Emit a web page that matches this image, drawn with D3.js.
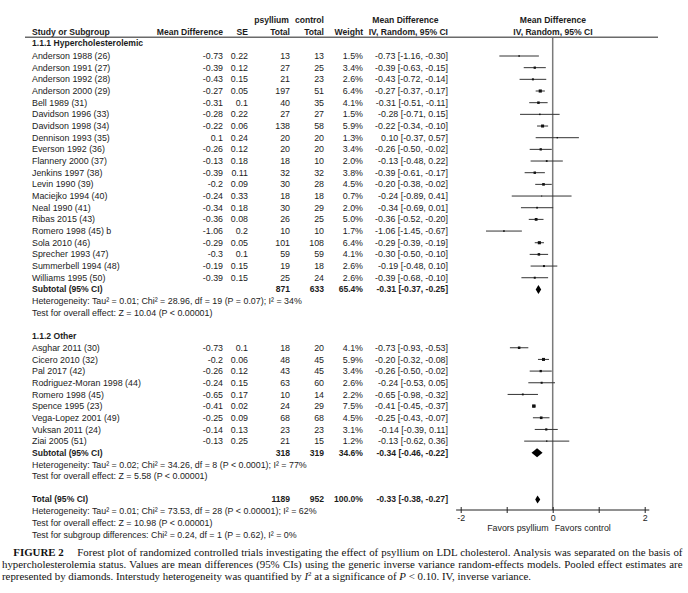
<!DOCTYPE html>
<html><head><meta charset="utf-8">
<script src="https://cdn.jsdelivr.net/npm/d3@7"></script>
<style>body{margin:0;background:#fff}svg{display:block}</style>
</head><body><svg id="c" width="688" height="593"></svg>
<script>
// ---------- DATA ----------
const g1Title = "1.1.1 Hypercholesterolemic";
const g1Names = ["Anderson 1988 (26)","Anderson 1991 (27)","Anderson 1992 (28)","Anderson 2000 (29)","Bell 1989 (31)","Davidson 1996 (33)","Davidson 1998 (34)","Dennison 1993 (35)","Everson 1992 (36)","Flannery 2000 (37)","Jenkins 1997 (38)","Levin 1990 (39)","Maciejko 1994 (40)","Neal 1990 (41)","Ribas 2015 (43)","Romero 1998 (45) b","Sola 2010 (46)","Sprecher 1993 (47)","Summerbell 1994 (48)","Williams 1995 (50)"];
const g1MD = [-0.73,-0.39,-0.43,-0.27,-0.31,-0.28,-0.22,0.1,-0.26,-0.13,-0.39,-0.2,-0.24,-0.34,-0.36,-1.06,-0.29,-0.3,-0.19,-0.39];
const g1SE = [0.22,0.12,0.15,0.05,0.1,0.22,0.06,0.24,0.12,0.18,0.11,0.09,0.33,0.18,0.08,0.2,0.05,0.1,0.15,0.15];
const g1NPsy = [13,27,21,197,40,27,138,20,20,18,32,30,18,30,26,10,101,59,19,25];
const g1NCtrl = [13,25,23,51,35,27,58,20,20,10,32,28,18,29,25,10,108,59,18,24];
const g1Weight = [1.5,3.4,2.6,6.4,4.1,1.5,5.9,1.3,3.4,2.0,3.8,4.5,0.7,2.0,5.0,1.7,6.4,4.1,2.6,2.6];
const g1Lo = [-1.16,-0.63,-0.72,-0.37,-0.51,-0.71,-0.34,-0.37,-0.50,-0.48,-0.61,-0.38,-0.89,-0.69,-0.52,-1.45,-0.39,-0.50,-0.48,-0.68];
const g1Hi = [-0.30,-0.15,-0.14,-0.17,-0.11,0.15,-0.10,0.57,-0.02,0.22,-0.17,-0.02,0.41,0.01,-0.20,-0.67,-0.19,-0.10,0.10,-0.10];
const g1Sub = {nPsy:871, nCtrl:633, weight:65.4, md:-0.31, lo:-0.37, hi:-0.25};
const g1Het = "Heterogeneity: Tau² = 0.01; Chi² = 28.96, df = 19 (P = 0.07); I² = 34%";
const g1Test = "Test for overall effect: Z = 10.04 (P < 0.00001)";

const g2Title = "1.1.2 Other";
const g2Names = ["Asghar 2011 (30)","Cicero 2010 (32)","Pal 2017 (42)","Rodriguez-Moran 1998 (44)","Romero 1998 (45)","Spence 1995 (23)","Vega-Lopez 2001 (49)","Vuksan 2011 (24)","Ziai 2005 (51)"];
const g2MD = [-0.73,-0.2,-0.26,-0.24,-0.65,-0.41,-0.25,-0.14,-0.13];
const g2SE = [0.1,0.06,0.12,0.15,0.17,0.02,0.09,0.13,0.25];
const g2NPsy = [18,48,43,63,10,24,68,23,21];
const g2NCtrl = [20,45,45,60,14,29,68,23,15];
const g2Weight = [4.1,5.9,3.4,2.6,2.2,7.5,4.5,3.1,1.2];
const g2Lo = [-0.93,-0.32,-0.50,-0.53,-0.98,-0.45,-0.43,-0.39,-0.62];
const g2Hi = [-0.53,-0.08,-0.02,0.05,-0.32,-0.37,-0.07,0.11,0.36];
const g2Sub = {nPsy:318, nCtrl:319, weight:34.6, md:-0.34, lo:-0.46, hi:-0.22};
const g2Het = "Heterogeneity: Tau² = 0.02; Chi² = 34.26, df = 8 (P < 0.0001); I² = 77%";
const g2Test = "Test for overall effect: Z = 5.58 (P < 0.00001)";

const total = {nPsy:1189, nCtrl:952, weight:100.0, md:-0.33, lo:-0.38, hi:-0.27};
const totHet = "Heterogeneity: Tau² = 0.01; Chi² = 73.53, df = 28 (P < 0.00001); I² = 62%";
const totTest = "Test for overall effect: Z = 10.98 (P < 0.00001)";
const subgroupTest = "Test for subgroup differences: Chi² = 0.24, df = 1 (P = 0.62), I² = 0%";

const axisTicks = [-2,-1,0,1,2];
const axisTickLabels = ["-2","","0","","2"];
const favorsLeft = "Favors psyllium";
const favorsRight = "Favors control";

// ---------- LAYOUT ----------
const svg = d3.select("#c");
const FONT = "'Liberation Sans', Arial, Helvetica, sans-serif";
const SERIF = "'Liberation Serif', 'Times New Roman', Times, serif";
const TXT = "#1c1c1c";
const x = d3.scaleLinear().domain([-2,2]).range([460.7,644.7]);
const rowY = d3.scaleLinear().domain([0,1]).range([56,67.67]);
const col = {name:32, md:223, se:248, nP:290, nC:324, w:363, ci:448};

// fit font sizes so that sample strings match widths measured on the reference
function fitSize(str, bold, target, fam) {
  const t = svg.append("text").attr("font-family", fam||FONT).attr("font-size",10)
    .attr("font-weight", bold?"bold":"normal").text(str);
  const w = t.node().getComputedTextLength(); t.remove();
  return 10*target/w;
}
const REG = d3.mean([fitSize(g1Het,false,268), fitSize("Rodriguez-Moran 1998 (44)",false,109), fitSize("Anderson 1988 (26)",false,79)]);
const BOLD = d3.mean([fitSize("Study or Subgroup",true,77), fitSize(g1Title,true,112.7), fitSize("Mean Difference",true,66)]);

const fmt2 = v => (v<0?"-":"") + Math.abs(v).toFixed(2);
const ciText = (m,l,h) => `${fmt2(m)} [${fmt2(l)}, ${fmt2(h)}]`;

function text(xp, yp, s, opts={}) {
  return svg.append("text").attr("x", xp).attr("y", yp).attr("dy","0.35em")
    .attr("font-family", FONT).attr("font-size", opts.bold?BOLD:REG)
    .attr("font-weight", opts.bold?"bold":"normal")
    .attr("text-anchor", opts.anchor||"start").attr("fill", TXT).text(s);
}

// headers
const yH1 = rowY(-3.1), yH2 = rowY(-2.05);
text(289, yH1, "psyllium", {bold:true, anchor:"end"});
text(col.nC, yH1, "control", {bold:true, anchor:"end"});
text(405.5, yH1, "Mean Difference", {bold:true, anchor:"middle"});
text(553, yH1, "Mean Difference", {bold:true, anchor:"middle"});
text(col.name, yH2, "Study or Subgroup", {bold:true});
text(col.md, yH2, "Mean Difference", {bold:true, anchor:"end"});
text(col.se, yH2, "SE", {bold:true, anchor:"end"});
text(col.nP, yH2, "Total", {bold:true, anchor:"end"});
text(col.nC, yH2, "Total", {bold:true, anchor:"end"});
text(col.w, yH2, "Weight", {bold:true, anchor:"end"});
text(col.ci, yH2, "IV, Random, 95% CI", {bold:true, anchor:"end"});
text(553, yH2, "IV, Random, 95% CI", {bold:true, anchor:"middle"});
svg.append("line").attr("x1",25).attr("x2",658).attr("y1",37.3).attr("y2",37.3)
  .attr("stroke","#6a6a6a").attr("stroke-width",1.4);

// zero line
const axisY = 510;
svg.append("line").attr("x1",x(0)).attr("x2",x(0)).attr("y1",38).attr("y2",axisY)
  .attr("stroke","#7a7a7a").attr("stroke-width",1.5);

const sq = d3.scaleSqrt().domain([0,7.5]).range([0,3.4]);

function studyRows(startIdx, names, md, se, nP, nC, w, lo, hi) {
  names.forEach((n,i) => {
    const y = rowY(startIdx+i);
    text(col.name, y, n);
    text(col.md, y, String(md[i]), {anchor:"end"});
    text(col.se, y, String(se[i]), {anchor:"end"});
    text(col.nP, y, nP[i], {anchor:"end"});
    text(col.nC, y, nC[i], {anchor:"end"});
    text(col.w, y, w[i].toFixed(1)+"%", {anchor:"end"});
    text(col.ci, y, ciText(md[i],lo[i],hi[i]), {anchor:"end"});
    svg.append("line").attr("x1",x(lo[i])).attr("x2",x(hi[i])).attr("y1",y).attr("y2",y)
      .attr("stroke","#333").attr("stroke-width",1);
    const s = sq(w[i]);
    svg.append("rect").attr("x",x(md[i])-s/2).attr("y",y-s/2).attr("width",s).attr("height",s)
      .attr("fill","#111");
  });
}
function summaryRow(idx, label, d, h) {
  const y = rowY(idx);
  text(col.name, y, label, {bold:true});
  text(col.nP, y, d.nPsy, {anchor:"end", bold:true});
  text(col.nC, y, d.nCtrl, {anchor:"end", bold:true});
  text(col.w, y, d.weight.toFixed(1)+"%", {anchor:"end", bold:true});
  text(col.ci, y, ciText(d.md,d.lo,d.hi), {anchor:"end", bold:true});
  const pts = [[x(d.lo),y],[x(d.md),y-h/2],[x(d.hi),y],[x(d.md),y+h/2]];
  svg.append("polygon").attr("points", pts.map(p=>p.join(",")).join(" ")).attr("fill","#000");
}

text(col.name, rowY(-1.1), g1Title, {bold:true});
studyRows(0, g1Names, g1MD, g1SE, g1NPsy, g1NCtrl, g1Weight, g1Lo, g1Hi);
summaryRow(20, "Subtotal (95% CI)", g1Sub, 9);
text(col.name, rowY(21), g1Het);
text(col.name, rowY(22), g1Test);

text(col.name, rowY(24), g2Title, {bold:true});
studyRows(25, g2Names, g2MD, g2SE, g2NPsy, g2NCtrl, g2Weight, g2Lo, g2Hi);
summaryRow(34, "Subtotal (95% CI)", g2Sub, 9);
text(col.name, rowY(35), g2Het);
text(col.name, rowY(36), g2Test);

summaryRow(38, "Total (95% CI)", total, 8);
text(col.name, rowY(39), totHet);
text(col.name, rowY(40), totTest);
text(col.name, rowY(41), subgroupTest);

// axis
const axG = svg.append("g").attr("transform",`translate(0,${axisY})`);
axG.call(d3.axisBottom(x).tickValues(axisTicks).tickSize(3)
  .tickFormat((d,i)=>axisTickLabels[i]));
axG.select(".domain").remove();
axG.selectAll(".tick line").attr("y1",-3).attr("y2",3).attr("stroke","#222");
axG.selectAll(".tick text").attr("y",4.5).attr("font-family",FONT).attr("font-size",REG).attr("fill",TXT);
axG.append("line").attr("x1",x(-2.1)).attr("x2",x(2.1)).attr("y1",0).attr("y2",0)
  .attr("stroke","#222").attr("stroke-width",1);
text(x(0)-4, 527.7, favorsLeft, {anchor:"end"});
text(x(0)+2, 527.7, favorsRight);

// ---------- CAPTION ----------
const capL = 2, capR = 682.5;
const c3 = svg.append("text").attr("x",capL).attr("y",579.5).attr("font-family",SERIF).attr("font-size",10).attr("fill","#111");
c3.append("tspan").text("represented by diamonds. Interstudy heterogeneity was quantified by ");
c3.append("tspan").attr("font-style","italic").text("I");
c3.append("tspan").attr("dy",-4).attr("font-size",7).text("2");
c3.append("tspan").attr("dy",4).text(" at a significance of ");
c3.append("tspan").attr("font-style","italic").text("P");
c3.append("tspan").text(" < 0.10. IV, inverse variance.");
const CAP = 10*529.5/c3.node().getComputedTextLength();
c3.attr("font-size", CAP);

function justify(t, target) {
  const words = (t.text().match(/ /g)||[]).length;
  const w = t.node().getComputedTextLength();
  if (words>0) t.attr("word-spacing", ((target - w)/words).toFixed(3));
}
svg.append("text").attr("x",13.3).attr("y",555.5).attr("font-family",SERIF).attr("font-size",CAP)
  .attr("font-weight","bold").attr("fill","#111").text("FIGURE 2");
const c1b = svg.append("text").attr("x",77.3).attr("y",555.5).attr("font-family",SERIF).attr("font-size",CAP).attr("fill","#111")
  .text("Forest plot of randomized controlled trials investigating the effect of psyllium on LDL cholesterol. Analysis was separated on the basis of");
justify(c1b, capR-77.3);
const c2 = svg.append("text").attr("x",capL).attr("y",567.5).attr("font-family",SERIF).attr("font-size",CAP).attr("fill","#111")
  .text("hypercholesterolemia status. Values are mean differences (95% CIs) using the generic inverse variance random-effects models. Pooled effect estimates are");
justify(c2, capR-capL);
</script>
</body></html>
